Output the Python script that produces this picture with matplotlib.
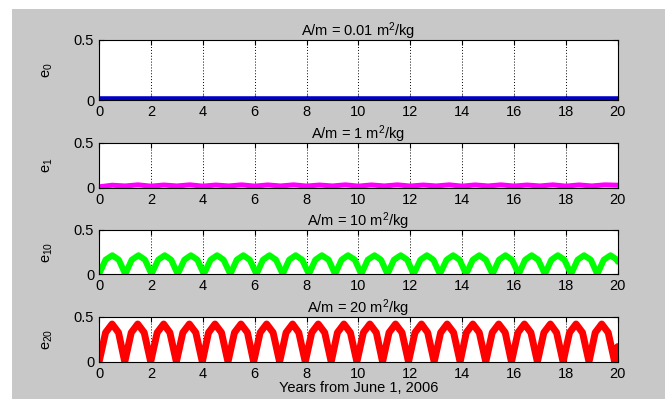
import numpy as np
import matplotlib.pyplot as plt
from matplotlib.patches import Rectangle

plt.rcParams['font.family'] = ['Liberation Sans', 'DejaVu Sans']
plt.rcParams['mathtext.default'] = 'regular'

# panel texts
titles = ['A/m = 0.01 m$^2$/kg', 'A/m = 1 m$^2$/kg',
          'A/m = 10 m$^2$/kg', 'A/m = 20 m$^2$/kg']
ylabels = ['e$_0$', 'e$_1$', 'e$_{10}$', 'e$_{20}$']
xlabel = 'Years from June 1, 2006'

# A/m = 0.01 : practically flat
e0_years = [0, 5, 10, 15, 20]
e0 = [0.006, 0.006, 0.006, 0.006, 0.006]

# A/m = 1 : small wiggle, half-year samples
e1_years = np.arange(0, 20.5, 0.5)
e1 = [0.012, 0.030, 0.022, 0.034, 0.020, 0.032, 0.022, 0.034, 0.020, 0.032,
      0.022, 0.034, 0.020, 0.033, 0.022, 0.034, 0.021, 0.032, 0.022, 0.034,
      0.020, 0.033, 0.022, 0.034, 0.021, 0.032, 0.022, 0.034, 0.020, 0.033,
      0.022, 0.034, 0.021, 0.032, 0.022, 0.034, 0.020, 0.033, 0.022, 0.034,
      0.030]

# A/m = 10 : arches, period a bit longer than a year
e10_years = [0.00, 0.25, 0.51, 0.76, 1.01, 1.26, 1.52, 1.77,
             2.02, 2.28, 2.53, 2.78, 3.03, 3.29, 3.54, 3.79,
             4.04, 4.30, 4.55, 4.80, 5.06, 5.31, 5.56, 5.81,
             6.07, 6.32, 6.57, 6.82, 7.08, 7.33, 7.58, 7.83,
             8.09, 8.34, 8.59, 8.85, 9.10, 9.35, 9.60, 9.86,
             10.11, 10.36, 10.62, 10.87, 11.12, 11.37, 11.63, 11.88,
             12.13, 12.39, 12.64, 12.89, 13.14, 13.40, 13.65, 13.90,
             14.15, 14.41, 14.66, 14.91, 15.17, 15.42, 15.67, 15.92,
             16.18, 16.43, 16.68, 16.93, 17.19, 17.44, 17.69, 17.94,
             18.20, 18.45, 18.70, 18.96, 19.21, 19.46, 19.72, 19.97,
             20.00]
e10 = [0, 0.162, 0.212, 0.162, 0, 0.162, 0.212, 0.162,
       0, 0.162, 0.212, 0.162, 0, 0.162, 0.212, 0.162,
       0, 0.162, 0.212, 0.162, 0, 0.162, 0.212, 0.162,
       0, 0.162, 0.212, 0.162, 0, 0.162, 0.212, 0.162,
       0, 0.162, 0.212, 0.162, 0, 0.162, 0.212, 0.162,
       0, 0.162, 0.212, 0.162, 0, 0.162, 0.212, 0.162,
       0, 0.162, 0.212, 0.162, 0, 0.162, 0.212, 0.162,
       0, 0.162, 0.212, 0.162, 0, 0.162, 0.212, 0.162,
       0, 0.162, 0.212, 0.162, 0, 0.162, 0.212, 0.162,
       0, 0.162, 0.212, 0.162, 0, 0.162, 0.212, 0.162,
       0.14]

# A/m = 20 : taller arches, period a bit shorter than a year
e20_years = [0.00, 0.25, 0.50, 0.75, 0.99, 1.24, 1.49, 1.74,
             1.99, 2.24, 2.49, 2.73, 2.98, 3.23, 3.48, 3.73,
             3.98, 4.22, 4.47, 4.72, 4.97, 5.22, 5.47, 5.72,
             5.96, 6.21, 6.46, 6.71, 6.96, 7.21, 7.46, 7.70,
             7.95, 8.20, 8.45, 8.70, 8.95, 9.19, 9.44, 9.69,
             9.94, 10.19, 10.44, 10.69, 10.93, 11.18, 11.43, 11.68,
             11.93, 12.18, 12.43, 12.67, 12.92, 13.17, 13.42, 13.67,
             13.92, 14.16, 14.41, 14.66, 14.91, 15.16, 15.41, 15.66,
             15.90, 16.15, 16.40, 16.65, 16.90, 17.15, 17.40, 17.64,
             17.89, 18.14, 18.39, 18.64, 18.89, 19.13, 19.38, 19.63,
             19.88, 20.00]
e20 = [0, 0.325, 0.42, 0.325, 0, 0.325, 0.42, 0.325,
       0, 0.325, 0.42, 0.325, 0, 0.325, 0.42, 0.325,
       0, 0.325, 0.42, 0.325, 0, 0.325, 0.42, 0.325,
       0, 0.325, 0.42, 0.325, 0, 0.325, 0.42, 0.325,
       0, 0.325, 0.42, 0.325, 0, 0.325, 0.42, 0.325,
       0, 0.325, 0.42, 0.325, 0, 0.325, 0.42, 0.325,
       0, 0.325, 0.42, 0.325, 0, 0.325, 0.42, 0.325,
       0, 0.325, 0.42, 0.325, 0, 0.325, 0.42, 0.325,
       0, 0.325, 0.42, 0.325, 0, 0.325, 0.42, 0.325,
       0, 0.325, 0.42, 0.325, 0, 0.325, 0.42, 0.325,
       0, 0.17]

series = [(e0_years, e0), (e1_years, e1), (e10_years, e10), (e20_years, e20)]
colors = ['#0000c8', '#ff00ff', '#00ff00', '#ff0000']
widths = [4.0, 3.6, 4.4, 5.0]

# axes boxes in figure fraction (taken from the pixel layout)
boxes = [[0.149, 0.749, 0.780, 0.151],
         [0.149, 0.529, 0.780, 0.113],
         [0.149, 0.313, 0.780, 0.111],
         [0.149, 0.093, 0.780, 0.113]]

fig = plt.figure(figsize=(6.65, 3.99), dpi=100, facecolor='white')
fig.patches.append(Rectangle((0.018, 0), 0.982, 0.977, transform=fig.transFigure,
                             facecolor='#c8c8c8', edgecolor='none', zorder=-5))

for i in range(4):
    ax = fig.add_axes(boxes[i])
    ax.set_facecolor('white')
    x, y = series[i]
    ax.plot(x, y, color=colors[i], linewidth=widths[i], solid_joinstyle='round',
            solid_capstyle='round')
    ax.set_xlim(0, 20)
    ax.set_ylim(0, 0.5)
    ax.set_xticks(range(0, 21, 2))
    ax.set_yticks([0, 0.5])
    ax.set_yticklabels(['0', '0.5'])
    ax.tick_params(direction='in', top=True, right=True, length=3.5,
                   width=0.8, labelsize=10.5, pad=3.5, colors='black')
    ax.grid(True, axis='x', linestyle=(0, (1, 2)), color='black', linewidth=0.7)
    for s in ax.spines.values():
        s.set_linewidth(0.8)
    ax.set_title(titles[i], fontsize=10.5, pad=3)
    ax.set_ylabel(ylabels[i], fontsize=10.5)
    ax.yaxis.set_label_coords(-0.085, 0.5)
    if i == 3:
        ax.set_xlabel(xlabel, fontsize=10.5, labelpad=0.5)

plt.savefig('out.png', dpi=100, facecolor=fig.get_facecolor())
